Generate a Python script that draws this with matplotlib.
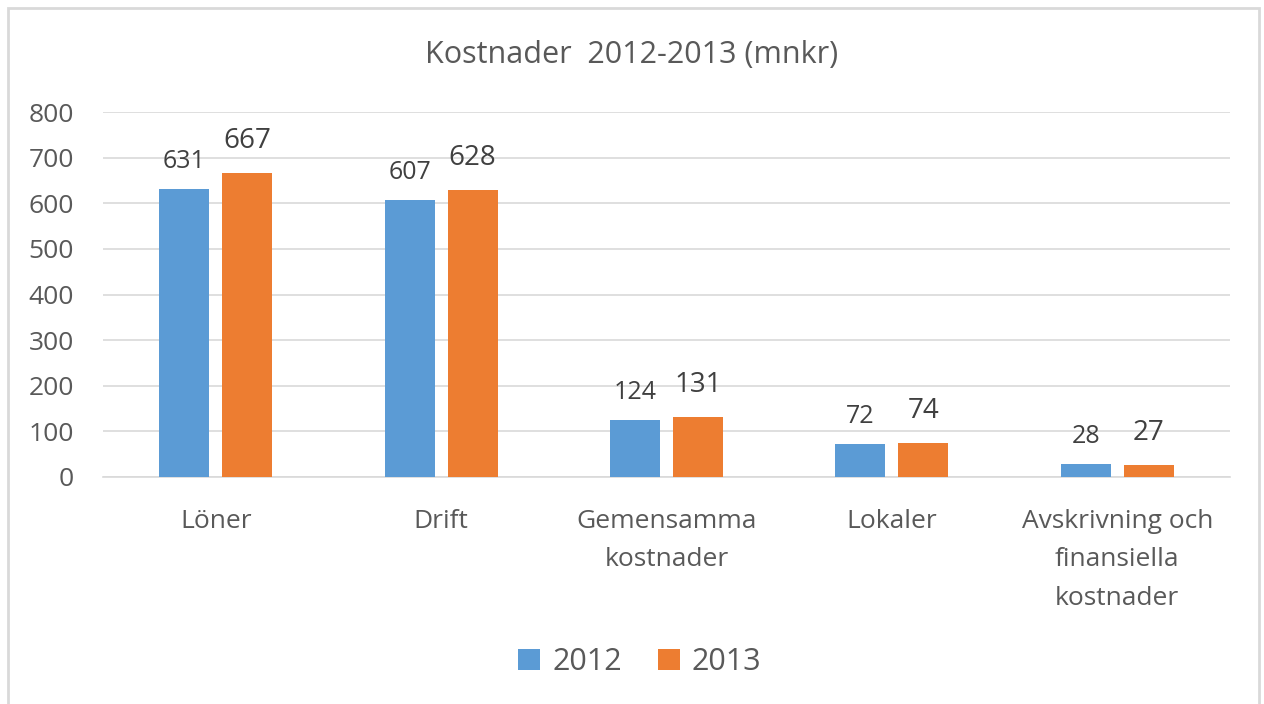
import matplotlib.pyplot as plt
from matplotlib.patches import Rectangle
import numpy as np

plt.rcParams['font.family'] = ['Open Sans', 'DejaVu Sans']

# data
kategorier = ["Löner", "Drift", "Gemensamma\nkostnader", "Lokaler",
              "Avskrivning och\nfinansiella\nkostnader"]
v2012 = [631, 607, 124, 72, 28]
v2013 = [667, 628, 131, 74, 27]
serier = ["2012", "2013"]

blue = "#5B9BD5"
orange = "#ED7D31"
grey_text = "#595959"

fig = plt.figure(figsize=(12.64, 7.04), dpi=100)
ax = fig.add_axes([103 / 1264, 1 - 477 / 704, 1127 / 1264, 365 / 704])

x = np.arange(len(kategorier))
w = 0.222
b1 = ax.bar(x - 0.14, v2012, w, color=blue, label=serier[0], zorder=3)
b2 = ax.bar(x + 0.14, v2013, w, color=orange, label=serier[1], zorder=3)

# data labels
for rect, v in zip(b1, v2012):
    ax.annotate(str(v), (rect.get_x() + rect.get_width() / 2, v),
                xytext=(0, 11), textcoords="offset points",
                ha="center", va="bottom", fontsize=18, color="#404040")
for rect, v in zip(b2, v2013):
    ax.annotate(str(v), (rect.get_x() + rect.get_width() / 2, v),
                xytext=(0, 13), textcoords="offset points",
                ha="center", va="bottom", fontsize=20, color="#404040")

ax.set_xlim(-0.5, len(kategorier) - 0.5)
ax.set_ylim(0, 800)
ax.set_yticks(range(0, 801, 100))
ax.yaxis.grid(True, color="#D9D9D9", linewidth=1.2, zorder=0)
ax.set_axisbelow(True)
for s in ["top", "right", "left"]:
    ax.spines[s].set_visible(False)
ax.spines["bottom"].set_color("#D9D9D9")
ax.spines["bottom"].set_linewidth(1.2)
ax.tick_params(axis="both", length=0, colors=grey_text, labelsize=19)
ax.tick_params(axis="y", pad=21)
ax.tick_params(axis="x", pad=23)
ax.set_xticks(x)
ax.set_xticklabels(kategorier, linespacing=1.7)

fig.text(0.5, 1 - 55 / 704, "Kostnader  2012-2013 (mnkr)", ha="center",
         va="center", fontsize=22, color=grey_text)

leg = fig.legend(handles=[b1, b2], labels=serier, loc="center",
                 bbox_to_anchor=(640 / 1264, 1 - 662 / 704), ncol=2,
                 frameon=False, fontsize=22, handlelength=0.7,
                 handleheight=0.7, handletextpad=0.4, columnspacing=1.2)
for t in leg.get_texts():
    t.set_color(grey_text)

# chart border
fig.patches.append(Rectangle((8 / 1264, -0.02), 1251 / 1264, 1 - 8 / 704 + 0.02,
                             transform=fig.transFigure, fill=False,
                             edgecolor="#D9D9D9", linewidth=2))

fig.savefig("out.png", dpi=100)
